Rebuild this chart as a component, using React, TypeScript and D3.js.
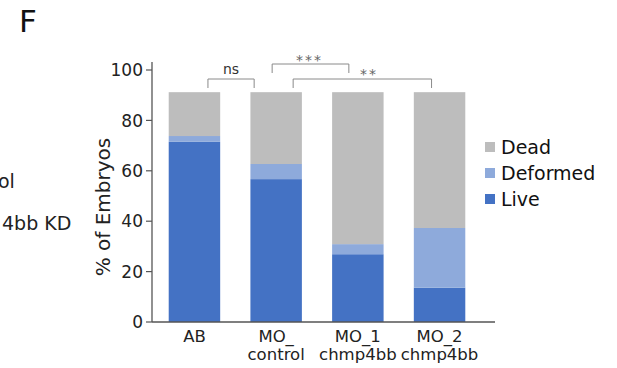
import * as d3 from "d3";

const groups = ["AB", "MO_control", "MO_1 chmp4bb", "MO_2 chmp4bb"];
const groupLines = [["AB"], ["MO_", "control"], ["MO_1", "chmp4bb"], ["MO_2", "chmp4bb"]];
const live = [71.5, 56.7, 26.9, 13.6];
const deformed = [2.3, 6.0, 4.0, 23.7];
const dead = [17.4, 28.5, 60.3, 53.9];
const yTicks = [0, 20, 40, 60, 80, 100];
const seriesKeys = ["Live", "Deformed", "Dead"];
const seriesColors = ["#4472c4", "#8eaadb", "#bdbdbd"];
const legendOrder = ["Dead", "Deformed", "Live"];

// significance brackets: from group, to group, label, level, leg offsets from bar centres
const sigs: [number, number, string, number, number, number][] = [
  [0, 1, "ns", 0, 13.5, -22],
  [1, 2, "***", 1, -4, -9],
  [1, 3, "**", 0, 17, -8],
];

const font = "'DejaVu Sans', sans-serif";

export default function App() {
  const W = 617;
  const H = 368;
  const x0 = 152;
  const x1 = 495;
  const plotTop = 70;
  const plotBottom = 322;

  const x = d3.scaleBand<string>().domain(groups).range([154, 480]).paddingInner(0.37).paddingOuter(0.18);
  const y = d3.scaleLinear().domain([0, 100]).range([plotBottom, plotTop]);

  const rows = groups.map((g, i) => ({ group: g, Live: live[i], Deformed: deformed[i], Dead: dead[i] }));
  const stack = d3.stack<any>().keys(seriesKeys)(rows);
  const color = d3.scaleOrdinal<string, string>().domain(seriesKeys).range(seriesColors);

  const cx = (i: number) => (x(groups[i]) ?? 0) + x.bandwidth() / 2;

  return (
    <svg width={W} height={H} style={{ position: "absolute", left: 0, top: 0, background: "#fff" }} fontFamily={font}>
      <text x={19} y={32} fontSize={31} fill="#111">F</text>
      <text x={-2} y={188} fontSize={19} fill="#222">ol</text>
      <text x={2} y={230} fontSize={19} fill="#222">4bb KD</text>

      {stack.map((layer) => (
        <g key={layer.key} fill={color(layer.key)}>
          {layer.map((d, i) => (
            <rect
              key={i}
              x={x(groups[i])}
              y={y(d[1])}
              width={x.bandwidth()}
              height={y(d[0]) - y(d[1])}
            />
          ))}
        </g>
      ))}

      {/* axes */}
      <line x1={x0} x2={x0} y1={plotTop - 8} y2={plotBottom} stroke="#555" strokeWidth={1.3} />
      <line x1={x0} x2={x1} y1={plotBottom} y2={plotBottom} stroke="#555" strokeWidth={1.3} />
      {yTicks.map((t) => (
        <g key={t}>
          <line x1={x0 - 6} x2={x0} y1={y(t)} y2={y(t)} stroke="#555" strokeWidth={1.2} />
          <text x={x0 - 9} y={y(t)} dy="0.36em" textAnchor="end" fontSize={17} fill="#222">
            {t}
          </text>
        </g>
      ))}
      <text
        transform={`translate(${103},${207}) rotate(-90)`}
        textAnchor="middle"
        dy="0.35em"
        fontSize={20}
        fill="#222"
      >
        % of Embryos
      </text>

      {groupLines.map((lines, i) => (
        <text key={i} x={cx(i)} y={342} textAnchor="middle" fontSize={16.5} fill="#222">
          {lines.map((l, j) => (
            <tspan key={j} x={cx(i)} dy={j === 0 ? 0 : 18}>
              {l}
            </tspan>
          ))}
        </text>
      ))}

      {/* significance */}
      {sigs.map(([a, b, label, level, da, db], k) => {
        const xa = cx(a) + da;
        const xb = cx(b) + db;
        const top = level === 1 ? 64 : 79;
        const bottom = top + 9;
        return (
          <g key={k}>
            <path
              d={`M${xa},${bottom}V${top}H${xb}V${bottom}`}
              fill="none"
              stroke="#8a8a8a"
              strokeWidth={1}
            />
            {label === "ns" ? (
              <text x={(xa + xb) / 2} y={top - 5} textAnchor="middle" fontSize={14} fill="#333">
                {label}
              </text>
            ) : (
              <text
                x={label === "**" ? 369 - 0 * xa : (xa + xb) / 2 - 1}
                y={label === "**" ? 79 : 65}
                textAnchor="middle"
                fontSize={14}
                letterSpacing={2}
                fill="#666"
              >
                {label}
              </text>
            )}
          </g>
        );
      })}

      {/* legend */}
      {legendOrder.map((k, i) => (
        <g key={k} transform={`translate(485,${142 + i * 26})`}>
          <rect x={0} y={0} width={10} height={10} fill={color(k)} />
          <text x={16} y={5} dy="0.36em" fontSize={19} fill="#111">
            {k}
          </text>
        </g>
      ))}
    </svg>
  );
}
